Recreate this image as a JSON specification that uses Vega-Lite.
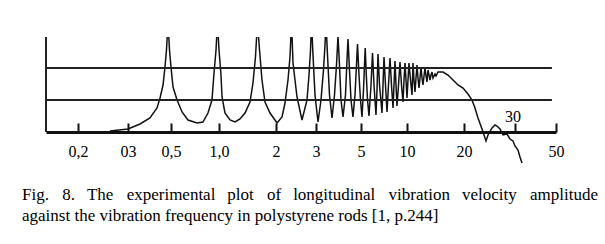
{
  "$schema": "https://vega.github.io/schema/vega-lite/v6.json",
  "autosize": {"type": "none"},
  "width": 510,
  "height": 127,
  "padding": {"left": 46, "top": 37, "right": 49, "bottom": 80},
  "background": "white",
  "config": {"view": {"stroke": null}},
  "title": {
    "text": ["Fig.\u2002\u2009\u200a8.\u2002\u2009The\u2002\u2009\u200aexperimental\u2002\u2009plot\u2002\u2009\u200aof\u2002\u2009longitudinal\u2002\u2009\u200avibration\u2002\u2009velocity\u2002\u2009\u200aamplitude", "against the vibration frequency in polystyrene rods [1, p.244]"],
    "orient": "bottom", "anchor": "start", "frame": "group", "dx": -24, "offset": 23,
    "font": "Liberation Serif", "fontSize": 17, "fontWeight": "normal", "color": "#000", "lineHeight": 21, "baseline": "top"
  },
  "layer": [
    {
      "data": {"values": [
        {"f":0.264,"v":1},{"f":0.3,"v":3},{"f":0.356,"v":8},{"f":0.402,"v":14},{"f":0.435,"v":24},{"f":0.449,"v":34},{"f":0.463,"v":47},{"f":0.472,"v":65},{"f":0.479,"v":82},{"f":0.486,"v":110},{"f":0.493,"v":82},{"f":0.5,"v":65},{"f":0.521,"v":45},{"f":0.563,"v":32},{"f":0.615,"v":20},{"f":0.677,"v":12},{"f":0.771,"v":9},{"f":0.833,"v":10},{"f":0.885,"v":19},{"f":0.927,"v":32},{"f":0.948,"v":59},{"f":0.969,"v":82},{"f":0.984,"v":110},{"f":1.0,"v":82},{"f":1.035,"v":57},{"f":1.053,"v":35},{"f":1.105,"v":19},{"f":1.193,"v":12},{"f":1.281,"v":10},{"f":1.368,"v":13},{"f":1.456,"v":19},{"f":1.544,"v":30},{"f":1.596,"v":49},{"f":1.64,"v":75},{"f":1.675,"v":110},{"f":1.711,"v":82},{"f":1.754,"v":52},{"f":1.807,"v":30},{"f":1.895,"v":19},{"f":1.982,"v":12},{"f":2.025,"v":9},{"f":2.15,"v":15},{"f":2.225,"v":29},{"f":2.3,"v":52},{"f":2.35,"v":75},{"f":2.388,"v":110},{"f":2.425,"v":69},{"f":2.525,"v":35},{"f":2.65,"v":12},{"f":2.775,"v":32},{"f":2.825,"v":57},{"f":2.863,"v":82},{"f":2.888,"v":110},{"f":2.925,"v":77},{"f":2.975,"v":37},{"f":3.089,"v":10},{"f":3.222,"v":32},{"f":3.333,"v":62},{"f":3.4,"v":87},{"f":3.444,"v":110},{"f":3.511,"v":77},{"f":3.6,"v":37},{"f":3.711,"v":14},{"f":3.822,"v":37},{"f":3.911,"v":67},{"f":3.978,"v":96},{"f":4.044,"v":67},{"f":4.111,"v":32},{"f":4.2,"v":15},{"f":4.311,"v":37},{"f":4.378,"v":72},{"f":4.422,"v":93},{"f":4.489,"v":62},{"f":4.556,"v":32},{"f":4.644,"v":15},{"f":4.733,"v":37},{"f":4.8,"v":67},{"f":4.844,"v":88},{"f":4.911,"v":57},{"f":4.978,"v":32},{"f":5.109,"v":15},{"f":5.272,"v":42},{"f":5.38,"v":67},{"f":5.457,"v":84},{"f":5.576,"v":57},{"f":5.707,"v":32},{"f":5.87,"v":16},{"f":6.087,"v":47},{"f":6.25,"v":79},{"f":6.413,"v":47},{"f":6.63,"v":17},{"f":6.739,"v":42},{"f":6.848,"v":78},{"f":7.011,"v":47},{"f":7.283,"v":19},{"f":7.391,"v":47},{"f":7.5,"v":75},{"f":7.663,"v":47},{"f":7.826,"v":20},{"f":7.989,"v":47},{"f":8.152,"v":74},{"f":8.315,"v":47},{"f":8.478,"v":24},{"f":8.587,"v":47},{"f":8.696,"v":71},{"f":8.804,"v":47},{"f":8.913,"v":26},{"f":9.076,"v":47},{"f":9.239,"v":70},{"f":9.402,"v":47},{"f":9.565,"v":30},{"f":9.674,"v":52},{"f":9.783,"v":69},{"f":9.891,"v":52},{"f":10,"v":34},{"f":10.175,"v":52},{"f":10.351,"v":69},{"f":10.614,"v":52},{"f":10.877,"v":37},{"f":10.965,"v":52},{"f":11.053,"v":69},{"f":11.228,"v":52},{"f":11.404,"v":40},{"f":11.579,"v":54},{"f":11.754,"v":67},{"f":11.93,"v":54},{"f":12.105,"v":44},{"f":12.281,"v":54},{"f":12.456,"v":65},{"f":12.632,"v":54},{"f":12.807,"v":47},{"f":12.982,"v":56},{"f":13.158,"v":64},{"f":13.333,"v":56},{"f":13.509,"v":50},{"f":13.596,"v":57},{"f":13.684,"v":62},{"f":13.86,"v":57},{"f":14.035,"v":52},{"f":14.211,"v":57},{"f":14.386,"v":60},{"f":14.561,"v":54},{"f":14.912,"v":58},{"f":15.088,"v":56},{"f":15.439,"v":60},{"f":16.316,"v":60},{"f":17.193,"v":57},{"f":18.07,"v":52},{"f":18.947,"v":47},{"f":19.825,"v":44},{"f":20.784,"v":38},{"f":21.569,"v":32},{"f":22.157,"v":24},{"f":22.745,"v":14},{"f":23.529,"v":3},{"f":23.922,"v":-3},{"f":24.314,"v":-9},{"f":24.706,"v":-3},{"f":25.49,"v":4},{"f":26.078,"v":7},{"f":26.471,"v":6},{"f":27.059,"v":3},{"f":27.647,"v":-3},{"f":28.431,"v":-2},{"f":29.02,"v":-7},{"f":29.608,"v":-9},{"f":30,"v":-14},{"f":31.463,"v":-18},{"f":32.439,"v":-25},{"f":33.415,"v":-31}
      ]},
      "mark": {"type": "line", "color": "#111", "strokeWidth": 1.5, "clip": true},
      "encoding": {
        "x": {
          "field": "f", "type": "quantitative",
          "scale": {"type": "linear", "domain": [0.1, 0.2, 0.3, 0.5, 1, 2, 3, 5, 10, 20, 30, 50], "range": [0, 32, 82, 125, 173, 230, 270, 315, 361, 418, 469, 510], "nice": false, "zero": false},
          "axis": {
            "title": null, "offset": -32, "values": [0.2, 0.3, 0.5, 1, 2, 3, 5, 10, 20, 30, 50],
            "labelExpr": "datum.value == 0.2 ? '0,2' : datum.value == 0.3 ? '03' : datum.value == 0.5 ? '0,5' : datum.value == 1 ? '1,0' : datum.value == 30 ? '' : '' + datum.value",
            "domainColor": "#111", "domainWidth": 3, "tickColor": "#111", "tickWidth": 2, "tickSize": -9,
            "labelFont": "Liberation Serif", "labelFontSize": 16, "labelColor": "#000", "labelBaseline": "top",
            "labelPadding": 20,
            "labelOverlap": false, "labelFlush": false, "grid": false
          }
        },
        "y": {"field": "v", "type": "quantitative", "axis": null, "scale": {"domain": [-32, 95], "nice": false, "zero": false}}
      }
    },
    {
      "data": {"values": [{"level": 32}, {"level": 64}]},
      "mark": {"type": "rule", "color": "#222", "strokeWidth": 2},
      "encoding": {
        "y": {"field": "level", "type": "quantitative"},
        "x": {"datum": 0.1, "type": "quantitative"},
        "x2": {"datum": 48}
      }
    },
    {
      "data": {"values": [{"f": 0.1}]},
      "mark": {"type": "rule", "color": "#222", "strokeWidth": 2},
      "encoding": {
        "x": {"field": "f", "type": "quantitative"},
        "y": {"datum": 0, "type": "quantitative"},
        "y2": {"datum": 95}
      }
    },
    {
      "data": {"values": [{"f": 30, "t": "30"}]},
      "mark": {"type": "text", "font": "Liberation Serif", "fontSize": 16, "color": "#000", "baseline": "middle", "dx": -2},
      "encoding": {
        "x": {"field": "f", "type": "quantitative"},
        "y": {"datum": 15, "type": "quantitative"},
        "text": {"field": "t"}
      }
    }
  ]
}
